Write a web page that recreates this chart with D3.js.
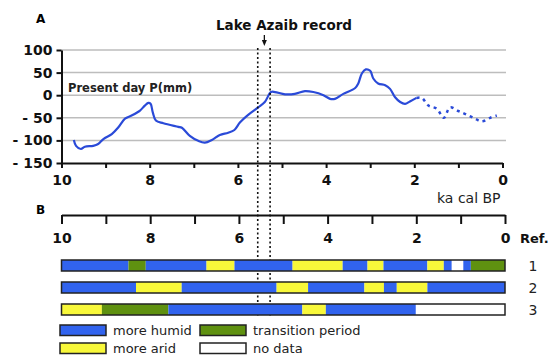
<!DOCTYPE html>
<html>
<head>
<meta charset="utf-8">
<script src="https://cdn.jsdelivr.net/npm/d3@7"></script>
<style>
  body { margin: 0; background: #fff; }
  svg { display: block; font-family: "DejaVu Sans", Verdana, sans-serif; }
</style>
</head>
<body>
<script>
// Panel A: precipitation anomaly (mm) vs age (ka cal BP)
const solidCurve = [
  [9.72, -99], [9.67, -112], [9.56, -119], [9.47, -114], [9.28, -112],
  [9.17, -108], [9.05, -97], [8.86, -86], [8.71, -71], [8.56, -52],
  [8.41, -45], [8.22, -34], [8.11, -23], [8.03, -17], [7.98, -19],
  [7.93, -38], [7.86, -56], [7.69, -62], [7.35, -70], [7.27, -72],
  [7.09, -90], [6.90, -101], [6.75, -105], [6.59, -99], [6.41, -88],
  [6.22, -83], [6.08, -77], [5.95, -60], [5.76, -43], [5.54, -27],
  [5.39, -15], [5.25, 7], [5.16, 7], [4.93, 2], [4.71, 3],
  [4.48, 9], [4.29, 7], [4.06, 0], [3.91, -8], [3.80, -8],
  [3.61, 3], [3.34, 16], [3.27, 26], [3.19, 48], [3.10, 57],
  [3.00, 54], [2.93, 37], [2.82, 26], [2.66, 22], [2.55, 14],
  [2.44, -4], [2.32, -15], [2.21, -19], [2.10, -14], [1.95, -6]
];
const dottedCurve = [
  [1.95, -6], [1.83, -6], [1.68, -23], [1.49, -30], [1.33, -50],
  [1.19, -27], [1.00, -35], [0.81, -43], [0.62, -52], [0.47, -58],
  [0.28, -50], [0.13, -45]
];
const yTicks = [-150, -100, -50, 0, 50, 100];
const gridValues = [-100, -50, 0, 50, 100];
const xTicks = d3.range(0, 11);
const recordBounds = [5.55, 5.27];
const recordArrowAt = 5.40;

// Panel B: climate phases per reference, [from ka, to ka, phase]
const ref1 = [
  [10, 8.49, 'humid'], [8.49, 8.10, 'transition'], [8.10, 6.73, 'humid'],
  [6.73, 6.10, 'arid'], [6.10, 4.79, 'humid'], [4.79, 3.66, 'arid'],
  [3.66, 3.10, 'humid'], [3.10, 2.74, 'arid'], [2.74, 1.75, 'humid'],
  [1.75, 1.38, 'arid'], [1.38, 1.20, 'humid'], [1.20, 0.94, 'nodata'],
  [0.94, 0.77, 'humid'], [0.77, 0, 'transition']
];
const ref2 = [
  [10, 8.32, 'humid'], [8.32, 7.29, 'arid'], [7.29, 5.15, 'humid'],
  [5.15, 4.44, 'arid'], [4.44, 3.17, 'humid'], [3.17, 2.73, 'arid'],
  [2.73, 2.44, 'humid'], [2.44, 1.75, 'arid'], [1.75, 0, 'humid']
];
const ref3 = [
  [10, 9.09, 'arid'], [9.09, 7.59, 'transition'], [7.59, 4.57, 'humid'],
  [4.57, 4.04, 'arid'], [4.04, 2.01, 'humid'], [2.01, 0, 'nodata']
];
const refLabels = ['1', '2', '3'];
const legendItems = [
  ['humid', 'more humid'], ['transition', 'transition period'],
  ['arid', 'more arid'], ['nodata', 'no data']
];

const phaseColor = {
  humid: '#3163ee',
  transition: '#5f9110',
  arid: '#f8f83a',
  nodata: '#ffffff'
};
const curveColor = '#2a4ad8';

const svg = d3.select('body')
  .append('svg')
  .attr('width', 551)
  .attr('height', 356);

// ---------- Panel A ----------
const xA = d3.scaleLinear().domain([10, 0]).range([61.5, 502.5]);
const yA = d3.scaleLinear().domain([-150, 100]).range([163, 50]);

svg.append('g')
  .selectAll('line')
  .data(gridValues)
  .enter()
  .append('line')
  .attr('x1', xA(10))
  .attr('x2', 506)
  .attr('y1', d => yA(d))
  .attr('y2', d => yA(d))
  .style('stroke', '#bdbdbd')
  .style('stroke-width', 1.5);

const styleAxis = (g, size) => {
  g.attr('font-family', null).attr('font-size', null);
  g.select('.domain').style('stroke', '#111').style('stroke-width', 2);
  g.selectAll('.tick line').style('stroke', '#111').style('stroke-width', 2);
  g.selectAll('.tick text')
    .style('font-size', size + 'px')
    .style('font-weight', 'bold')
    .style('fill', '#111');
};

const xAxisA = d3.axisBottom(xA)
  .tickValues(xTicks)
  .tickSize(5)
  .tickSizeOuter(0)
  .tickPadding(7)
  .tickFormat(d => (d % 2 === 0 ? d : ''));
svg.append('g')
  .attr('transform', `translate(0, ${yA(-150)})`)
  .call(xAxisA)
  .call(g => styleAxis(g, 14));

const yAxisA = d3.axisLeft(yA)
  .tickValues(yTicks)
  .tickSize(5)
  .tickSizeOuter(0)
  .tickPadding(4)
  .tickFormat(d => (d < 0 ? '- ' + Math.abs(d) : d));
svg.append('g')
  .attr('transform', `translate(${xA(10)}, 0)`)
  .call(yAxisA)
  .call(g => styleAxis(g, 14));

const line = d3.line()
  .x(d => xA(d[0]))
  .y(d => yA(d[1]))
  .curve(d3.curveCatmullRom.alpha(0.5));

svg.append('path')
  .datum(solidCurve)
  .attr('d', line)
  .style('fill', 'none')
  .style('stroke', curveColor)
  .style('stroke-width', 2.2)
  .style('stroke-linejoin', 'round');

svg.append('path')
  .datum(dottedCurve)
  .attr('d', line)
  .style('fill', 'none')
  .style('stroke', curveColor)
  .style('stroke-width', 2.5)
  .style('stroke-dasharray', '3,4');

svg.append('text')
  .attr('x', 68)
  .attr('y', 92)
  .text('Present day P(mm)')
  .style('font-size', '11.5px')
  .style('font-weight', 'bold')
  .style('fill', '#222');

svg.append('text')
  .attr('x', 36)
  .attr('y', 23)
  .text('A')
  .style('font-size', '12px')
  .style('font-weight', 'bold');

svg.append('text')
  .attr('x', 437)
  .attr('y', 203)
  .text('ka cal BP')
  .style('font-size', '14px')
  .style('fill', '#222');

// Lake Azaib record marker
svg.append('text')
  .attr('x', 284)
  .attr('y', 30)
  .attr('text-anchor', 'middle')
  .text('Lake Azaib record')
  .style('font-size', '13.5px')
  .style('font-weight', 'bold')
  .style('fill', '#111');

const ax = xA(recordArrowAt);
svg.append('line')
  .attr('x1', ax).attr('x2', ax)
  .attr('y1', 35).attr('y2', 41)
  .style('stroke', '#111')
  .style('stroke-width', 1.3);
svg.append('path')
  .attr('d', `M${ax - 2.5},40 L${ax + 2.5},40 L${ax},46 Z`)
  .style('fill', '#111');

svg.append('g')
  .selectAll('line')
  .data(recordBounds)
  .enter()
  .append('line')
  .attr('x1', d => xA(d))
  .attr('x2', d => xA(d))
  .attr('y1', 48)
  .attr('y2', 318)
  .style('stroke', '#111')
  .style('stroke-width', 1.6)
  .style('stroke-dasharray', '2,2.5');

// ---------- Panel B ----------
const xB = d3.scaleLinear().domain([10, 0]).range([61.5, 505]);
const rowScale = d3.scaleBand()
  .domain(refLabels)
  .range([260, 315])
  .paddingInner(0.5)
  .paddingOuter(0);

svg.append('text')
  .attr('x', 36)
  .attr('y', 214)
  .text('B')
  .style('font-size', '12px')
  .style('font-weight', 'bold');

const xAxisB = d3.axisBottom(xB)
  .tickValues(xTicks)
  .tickSize(9)
  .tickSizeOuter(0)
  .tickPadding(9)
  .tickFormat(d => (d % 2 === 0 ? d : ''));
svg.append('g')
  .attr('transform', 'translate(0, 215)')
  .call(xAxisB)
  .call(g => styleAxis(g, 14));

svg.append('text')
  .attr('x', 520)
  .attr('y', 243)
  .text('Ref.')
  .style('font-size', '13px')
  .style('font-weight', 'bold')
  .style('fill', '#111');

[ref1, ref2, ref3].forEach((segments, i) => {
  const key = refLabels[i];
  const row = svg.append('g').attr('class', 'ref-row');
  row.selectAll('rect')
    .data(segments)
    .enter()
    .append('rect')
    .attr('x', d => xB(d[0]))
    .attr('width', d => xB(d[1]) - xB(d[0]))
    .attr('y', rowScale(key))
    .attr('height', rowScale.bandwidth())
    .style('fill', d => phaseColor[d[2]]);
  row.append('rect')
    .attr('x', xB(10))
    .attr('width', xB(0) - xB(10))
    .attr('y', rowScale(key))
    .attr('height', rowScale.bandwidth())
    .style('fill', 'none')
    .style('stroke', '#222')
    .style('stroke-width', 1.5);
  row.append('text')
    .attr('x', 533)
    .attr('y', rowScale(key) + rowScale.bandwidth() / 2 + 5)
    .attr('text-anchor', 'middle')
    .text(key)
    .style('font-size', '14px')
    .style('fill', '#222');
});

// legend
const legend = svg.append('g')
  .selectAll('g')
  .data(legendItems)
  .enter()
  .append('g')
  .attr('transform', (d, i) => `translate(${i % 2 === 0 ? 60 : 200}, ${i < 2 ? 325 : 343})`);

legend.append('rect')
  .attr('width', 46)
  .attr('height', 10.5)
  .style('fill', d => phaseColor[d[0]])
  .style('stroke', '#222')
  .style('stroke-width', 1.5);

legend.append('text')
  .attr('x', 53)
  .attr('y', 10)
  .text(d => d[1])
  .style('font-size', '13px')
  .style('fill', '#222');
</script>
</body>
</html>
